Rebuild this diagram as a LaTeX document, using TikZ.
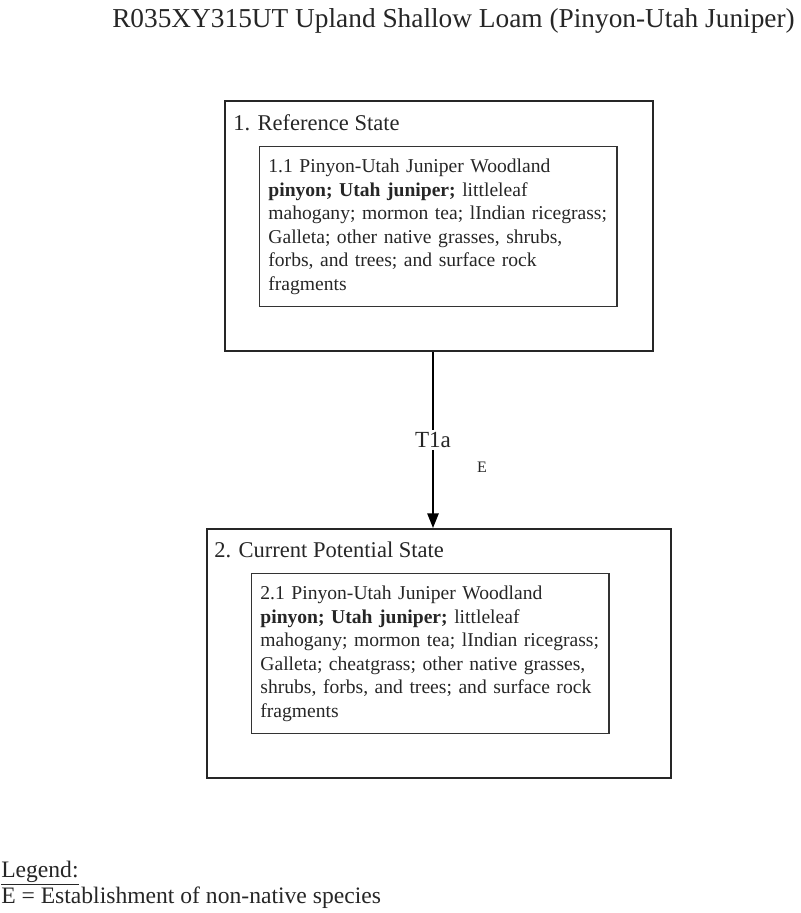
\documentclass[tikz,border=0pt]{standalone}
\usepackage{fontspec}
\setmainfont{Liberation Serif}
\usetikzlibrary{arrows.meta}
\begin{document}
\begin{tikzpicture}[x=0.75pt,y=-0.75pt,
  outerbox/.style={draw=black!85,line width=1.6pt,anchor=north west,inner sep=0pt},
  innerbox/.style={draw=black!80,line width=1.1pt,anchor=north west,inner xsep=6.5pt,inner ysep=0pt,
    align=left,font=\fontsize{14.7pt}{17.6pt}\selectfont,text=black!85},
  statelabel/.style={anchor=base west,inner sep=0pt,font=\fontsize{16.9pt}{20pt}\selectfont,text=black!85},
  conn/.style={line width=1.3pt,draw=black,-{Triangle[length=11pt,width=8.5pt]}}]
\useasboundingbox (0,0) rectangle (800,913);
% title
\node[anchor=base west,inner sep=0pt,font=\fontsize{20.5pt}{24pt}\selectfont,text=black!85] (title) at (112,28)
  {R035XY315UT Upland Shallow Loam (Pinyon-Utah Juniper)};
% state 1
\node[outerbox,minimum width=428*0.75pt,minimum height=250*0.75pt] (s1) at (224,100) {};
\node[statelabel] (s1lab) at (233,131) {1. Reference State};
\node[innerbox,text width=340*0.75pt,minimum width=356*0.75pt,minimum height=160*0.75pt] (p11) at (259,146)
  {1.1 Pinyon-Utah Juniper Woodland\\
   \textbf{pinyon; Utah juniper;} littleleaf\\
   mahogany; mormon tea; lIndian ricegrass;\\
   Galleta; other native grasses, shrubs,\\
   forbs, and trees; and surface rock\\
   fragments};
% state 2
\node[outerbox,minimum width=464*0.75pt,minimum height=249*0.75pt] (s2) at (206,528) {};
\node[statelabel] (s2lab) at (214,557) {2. Current Potential State};
\node[innerbox,text width=340*0.75pt,minimum width=356*0.75pt,minimum height=160*0.75pt] (p21) at (251,573)
  {2.1 Pinyon-Utah Juniper Woodland\\
   \textbf{pinyon; Utah juniper;} littleleaf\\
   mahogany; mormon tea; lIndian ricegrass;\\
   Galleta; cheatgrass; other native grasses,\\
   shrubs, forbs, and trees; and surface rock\\
   fragments};
% transition
\coordinate (ax) at (433,0);
\draw[conn] (s1.south -| ax) -- (s2.north -| ax)
  node[pos=0.5,fill=white,inner xsep=1pt,inner ysep=2pt,font=\fontsize{17.3pt}{20pt}\selectfont,text=black!85] (t1a) {T1a};
\node[font=\fontsize{12pt}{14pt}\selectfont,text=black!85] (e) at (482,467) {E};
% legend
\node[anchor=base west,inner sep=0pt,font=\fontsize{17.7pt}{20pt}\selectfont,text=black!85] (leg) at (1,877) {\underline{Legend:}};
\node[anchor=base west,inner sep=0pt,font=\fontsize{17.7pt}{20pt}\selectfont,text=black!85] (legE) at (1,903) {E = Establishment of non-native species};
\end{tikzpicture}
\end{document}
